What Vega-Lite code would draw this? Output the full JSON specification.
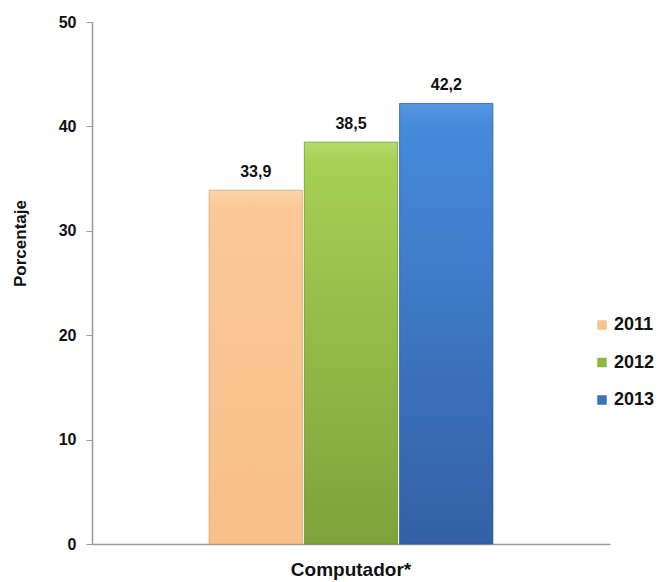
{
  "$schema": "https://vega.github.io/schema/vega-lite/v6.json",
  "autosize": {"type": "none"},
  "padding": {"left": 92, "top": 22, "right": 52, "bottom": 38},
  "width": 518,
  "height": 522,
  "config": {
    "view": {"stroke": null},
    "font": "Liberation Sans",
    "locale": {"number": {"decimal": ",", "thousands": ".", "grouping": [3], "currency": ["", " €"]}}
  },
  "data": {
    "values": [
      {"categoria": "Computador*", "anio": "2011", "porcentaje": 33.9},
      {"categoria": "Computador*", "anio": "2012", "porcentaje": 38.5},
      {"categoria": "Computador*", "anio": "2013", "porcentaje": 42.2}
    ]
  },
  "encoding": {
    "x": {
      "field": "categoria", "type": "nominal",
      "scale": {"paddingInner": 0, "paddingOuter": 0.412},
      "axis": {
        "title": null, "labelAngle": 0, "labelFontSize": 19, "labelFontWeight": "bold",
        "labelColor": "#111", "labelPadding": 16, "ticks": false,
        "domainColor": "#999", "domainWidth": 1.5
      }
    },
    "xOffset": {"field": "anio", "type": "nominal", "scale": {"paddingInner": 0.02}},
    "y": {
      "field": "porcentaje", "type": "quantitative",
      "scale": {"domain": [0, 50]},
      "axis": {
        "title": "Porcentaje", "titleFontSize": 17, "titleFontWeight": "bold", "titleColor": "#111",
        "titlePadding": 29, "titleY": 221,
        "values": [0, 10, 20, 30, 40, 50], "grid": false,
        "labelFontSize": 16, "labelFontWeight": "bold", "labelColor": "#111", "labelPadding": 10,
        "tickSize": 6, "tickColor": "#999", "domainColor": "#999", "domainWidth": 1.5
      }
    }
  },
  "layer": [
    {
      "mark": {"type": "bar"},
      "encoding": {
        "color": {
          "field": "anio", "type": "nominal",
          "scale": {"domain": ["2011", "2012", "2013"], "range": ["#F9C38F", "#8DB843", "#3B72BE"]},
          "legend": {
            "title": null, "orient": "none", "legendX": 501, "legendY": 294,
            "symbolType": "square", "symbolSize": 90, "symbolStrokeWidth": 0,
            "labelFontSize": 18, "labelFontWeight": "bold", "labelColor": "#111",
            "rowPadding": 19.5, "labelOffset": 3
          }
        }
      }
    },
    {
      "transform": [{"filter": "datum.anio === '2011'"}],
      "mark": {"type": "bar", "stroke": "#c9a07a", "strokeWidth": 0.6,
        "color": {"gradient": "linear", "x1": 0, "y1": 0, "x2": 0, "y2": 1,
          "stops": [{"offset": 0, "color": "#FDD3A8"}, {"offset": 0.05, "color": "#FAC896"}, {"offset": 1, "color": "#F8C08A"}]}}
    },
    {
      "transform": [{"filter": "datum.anio === '2012'"}],
      "mark": {"type": "bar", "stroke": "#6f8f30", "strokeWidth": 0.6,
        "color": {"gradient": "linear", "x1": 0, "y1": 0, "x2": 0, "y2": 1,
          "stops": [{"offset": 0, "color": "#B5DC6A"}, {"offset": 0.05, "color": "#A6CF55"}, {"offset": 1, "color": "#7FA23A"}]}}
    },
    {
      "transform": [{"filter": "datum.anio === '2013'"}],
      "mark": {"type": "bar", "stroke": "#2d5490", "strokeWidth": 0.6,
        "color": {"gradient": "linear", "x1": 0, "y1": 0, "x2": 0, "y2": 1,
          "stops": [{"offset": 0, "color": "#5596E2"}, {"offset": 0.05, "color": "#468ADC"}, {"offset": 1, "color": "#3360A4"}]}}
    },
    {
      "mark": {"type": "text", "dy": -13, "fontSize": 16, "fontWeight": "bold", "color": "#111", "baseline": "alphabetic"},
      "encoding": {
        "text": {"field": "porcentaje", "type": "quantitative", "format": ".1f"}
      }
    }
  ]
}
